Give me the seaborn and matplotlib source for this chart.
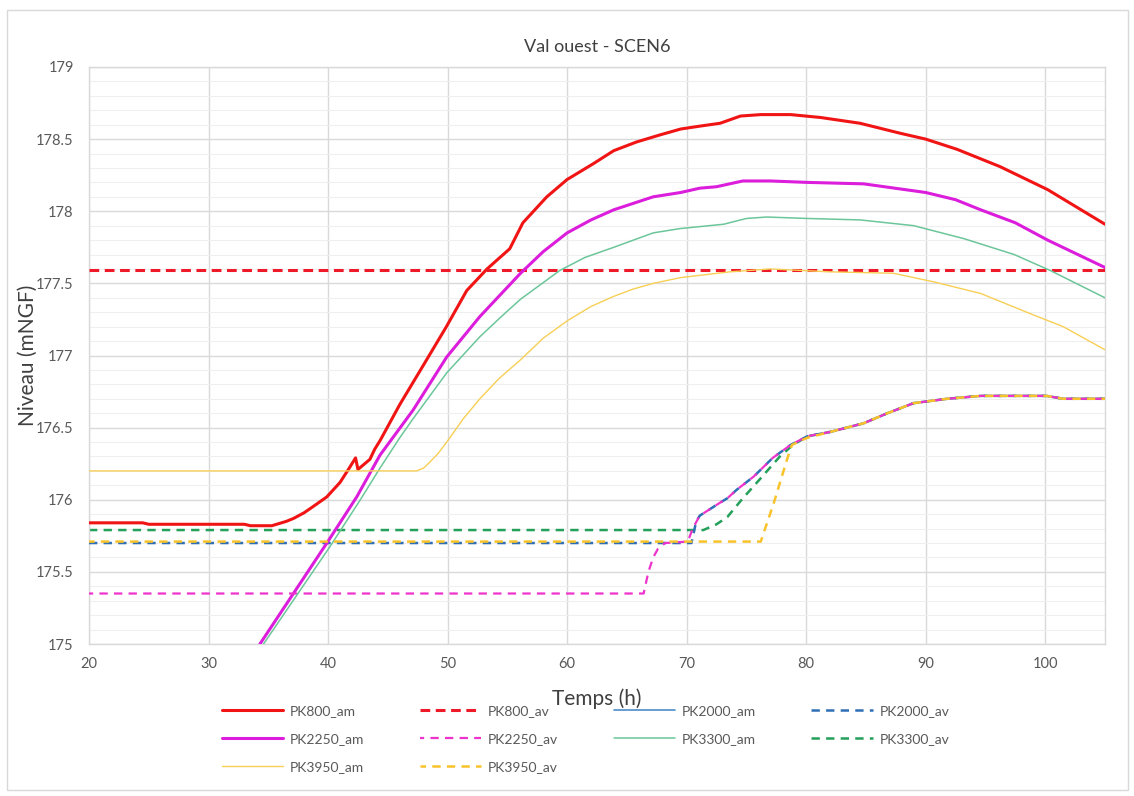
import matplotlib
matplotlib.use("Agg")
import matplotlib.pyplot as plt
import seaborn as sns
from matplotlib.patches import Rectangle
from matplotlib.ticker import MultipleLocator

# ---------------- data ----------------
pk800_am_t = [20, 24.5, 25, 33, 33.5, 35.3, 36.5, 37.1, 38, 38.7, 39.9, 41.0, 41.7, 42.3, 42.5,
              43.5, 43.9, 44.35, 46, 48.1, 49.9, 51.6, 53.3, 55.2, 56.3, 58.3, 60, 62.2, 63.9,
              65.8, 67.8, 69.5, 71.1, 72.8, 74.5, 76.2, 78.7, 81.2, 84.5, 87.9, 90, 92.6, 96.2,
              100.2, 105]
pk800_am_v = [175.84, 175.84, 175.83, 175.83, 175.82, 175.82, 175.85, 175.87, 175.91, 175.95,
              176.02, 176.12, 176.21, 176.29, 176.21, 176.28, 176.35, 176.41, 176.66, 176.95,
              177.20, 177.45, 177.60, 177.74, 177.92, 178.10, 178.22, 178.33, 178.42, 178.48,
              178.53, 178.57, 178.59, 178.61, 178.66, 178.67, 178.67, 178.65, 178.61, 178.54,
              178.50, 178.43, 178.31, 178.15, 177.91]

pk800_av_t = [20, 105]
pk800_av_v = [177.59, 177.59]

pk2000_am_t = [34.3, 37.1, 39.9, 42.4, 44.35, 47.1, 49.93, 52.7, 56.1, 58.0, 60.0, 62.0, 63.9,
               67.2, 69.5, 71.1, 72.5, 74.7, 77, 80.1, 84.8, 90, 92.5, 94.6, 97.5, 100.2, 105]
pk2000_am_v = [175.0, 175.35, 175.70, 176.02, 176.31, 176.62, 176.99, 177.27, 177.57, 177.72,
               177.85, 177.94, 178.01, 178.10, 178.13, 178.16, 178.17, 178.21, 178.21, 178.20,
               178.19, 178.13, 178.08, 178.01, 177.92, 177.80, 177.61]

pk2000_av_t = [20, 70.4, 70.8, 71.1, 72.8, 73.4, 74.2, 75.6, 77.2, 78.7, 80.1, 82.0, 84.8, 86.8,
               89.0, 91.8, 94.6, 100.1, 101.5, 105]
pk2000_av_v = [175.70, 175.70, 175.85, 175.89, 175.98, 176.01, 176.07, 176.16, 176.29, 176.38,
               176.44, 176.47, 176.53, 176.60, 176.67, 176.70, 176.72, 176.72, 176.70, 176.70]

pk2250_am_t = [34.3, 37.1, 39.9, 42.4, 44.35, 47.1, 49.93, 52.7, 56.1, 58.0, 60.0, 62.0, 63.9,
               67.2, 69.5, 71.1, 72.5, 74.7, 77, 80.1, 84.8, 90, 92.5, 94.6, 97.5, 100.2, 105]
pk2250_am_v = [175.0, 175.35, 175.70, 176.02, 176.31, 176.62, 176.99, 177.27, 177.57, 177.72,
               177.85, 177.94, 178.01, 178.10, 178.13, 178.16, 178.17, 178.21, 178.21, 178.20,
               178.19, 178.13, 178.08, 178.01, 177.92, 177.80, 177.61]

pk2250_av_t = [20, 66.4, 66.8, 67.2, 67.6, 68.2, 70.1, 70.5, 71.1, 72.8, 73.4, 74.2, 75.6, 77.2,
               78.7, 80.1, 82.0, 84.8, 86.8, 89.0, 91.8, 94.6, 100.1, 101.5, 105]
pk2250_av_v = [175.35, 175.35, 175.50, 175.60, 175.66, 175.70, 175.71, 175.80, 175.89, 175.98,
               176.01, 176.07, 176.16, 176.29, 176.38, 176.44, 176.47, 176.53, 176.60, 176.67,
               176.70, 176.72, 176.72, 176.70, 176.70]

pk3300_am_t = [34.6, 37.4, 40.2, 42.7, 44.35, 46.0, 47.1, 49.93, 52.7, 54.5, 56.1, 59.4, 61.5,
               63.9, 67.2, 69.46, 73.1, 75.0, 76.7, 80.1, 84.5, 89.0, 93.2, 97.4, 100.4, 105]
pk3300_am_v = [175.0, 175.34, 175.68, 176.0, 176.22, 176.43, 176.56, 176.88, 177.13, 177.27,
               177.39, 177.59, 177.68, 177.75, 177.85, 177.88, 177.91, 177.95, 177.96, 177.95,
               177.94, 177.90, 177.81, 177.70, 177.59, 177.40]

pk3300_av_t = [20, 71.4, 72.5, 73.4, 74.7, 76.1, 77.8, 78.9, 80.1, 82.0, 84.8, 86.8, 89.0, 91.8,
               94.6, 100.1, 101.5, 105]
pk3300_av_v = [175.79, 175.79, 175.83, 175.88, 176.01, 176.14, 176.30, 176.38, 176.44, 176.47,
               176.53, 176.60, 176.67, 176.70, 176.72, 176.72, 176.70, 176.70]

pk3950_am_t = [20, 47.4, 48.0, 48.5, 49.2, 49.93, 51.3, 52.7, 54.3, 56.1, 58.0, 60.0, 62.0, 63.9,
               65.5, 67.2, 69.5, 73.6, 77.0, 82.0, 87.3, 90.7, 94.6, 98.75, 101.5, 105]
pk3950_am_v = [176.20, 176.20, 176.22, 176.26, 176.32, 176.40, 176.56, 176.70, 176.84, 176.97,
               177.12, 177.24, 177.34, 177.41, 177.46, 177.50, 177.54, 177.58, 177.60, 177.58,
               177.57, 177.51, 177.43, 177.29, 177.20, 177.04]

pk3950_av_t = [20, 76.2, 77.3, 78.4, 78.8, 80.1, 82.0, 84.8, 86.8, 89.0, 91.8, 94.6, 100.1,
               101.5, 105]
pk3950_av_v = [175.71, 175.71, 175.98, 176.28, 176.38, 176.43, 176.47, 176.53, 176.60, 176.67,
               176.70, 176.72, 176.72, 176.70, 176.70]

title = "Val ouest - SCEN6"
x_label = "Temps (h)"
y_label = "Niveau (mNGF)"

# ---------------- style ----------------
sns.set_style("white")
plt.rcParams['font.family'] = ['Lato', 'DejaVu Sans']
plt.rcParams['lines.scale_dashes'] = False

W, H = 1134, 796
fig = plt.figure(figsize=(W / 100, H / 100), dpi=100)
fig.patch.set_facecolor("white")
fig.patches.append(Rectangle((7 / W, 6 / H), 1121 / W, 780 / H, transform=fig.transFigure,
                             fill=False, edgecolor="#d9d9d9", linewidth=1.0, zorder=0))

ax = fig.add_axes([89 / W, 1 - 644 / H, 1016 / W, 577 / H])

DASH = (0, (6, 4.5))
# name, t, v, colour, linewidth, linestyle, zorder
series = [
    ("PK800_am", pk800_am_t, pk800_am_v, "#f01414", 2.2, "-", 3),
    ("PK800_av", pk800_av_t, pk800_av_v, "#ee1a2a", 2.2, (0, (7, 4)), 4),
    ("PK2000_am", pk2000_am_t, pk2000_am_v, "#4c8ccc", 1.2, "-", 5),
    ("PK2000_av", pk2000_av_t, pk2000_av_v, "#2f6fb5", 1.8, DASH, 6),
    ("PK2250_am", pk2250_am_t, pk2250_am_v, "#dc1edc", 2.2, "-", 7),
    ("PK2250_av", pk2250_av_t, pk2250_av_v, "#ee33cc", 1.6, (3, (6, 4.5)), 8),
    ("PK3300_am", pk3300_am_t, pk3300_am_v, "#6cc69a", 1.1, "-", 9),
    ("PK3300_av", pk3300_av_t, pk3300_av_v, "#24a05a", 1.8, DASH, 2.5),
    ("PK3950_am", pk3950_am_t, pk3950_am_v, "#f7cf55", 1.0, "-", 11),
    ("PK3950_av", pk3950_av_t, pk3950_av_v, "#f8c32a", 1.8, (2, (6, 4.5)), 12),
]

for name, t, v, col, lw, ls, z in series:
    sns.lineplot(x=t, y=v, ax=ax, color=col, linewidth=lw, linestyle=ls, label=name,
                 legend=False, estimator=None, sort=False, zorder=z)

ax.set_xlim(20, 105)
ax.set_ylim(175, 179)
ax.xaxis.set_major_locator(MultipleLocator(10))
ax.yaxis.set_minor_locator(MultipleLocator(0.1))
ax.set_yticks([175, 175.5, 176, 176.5, 177, 177.5, 178, 178.5, 179])
ax.set_yticklabels(["175", "175.5", "176", "176.5", "177", "177.5", "178", "178.5", "179"])

ax.grid(which="major", axis="both", color="#d9d9d9", linewidth=1.0, zorder=0)
ax.grid(which="minor", axis="y", color="#efefef", linewidth=0.8, zorder=0)
ax.set_axisbelow(True)
for s in ax.spines.values():
    s.set_color("#d9d9d9")
    s.set_linewidth(1.0)

ax.tick_params(axis="both", which="both", length=0, labelsize=10.5, labelcolor="#595959")
ax.tick_params(axis="y", pad=11)
ax.tick_params(axis="x", pad=9)

ax.set_title(title, fontsize=13, color="#404040", y=1.026, pad=0)
ax.set_xlabel(x_label, fontsize=15, color="#404040")
ax.xaxis.set_label_coords(0.5, -0.094)
ax.xaxis.label.set_va("center")
ax.set_ylabel(y_label, fontsize=15, color="#404040")
ax.yaxis.set_label_coords(-0.060, 0.5)
ax.yaxis.label.set_va("center")

handles, labels = ax.get_legend_handles_labels()
hmap = dict(zip(labels, handles))
order = ["PK800_am", "PK2250_am", "PK3950_am", "PK800_av", "PK2250_av", "PK3950_av",
         "PK2000_am", "PK3300_am", "PK2000_av", "PK3300_av"]
leg = fig.legend([hmap[k] for k in order], order, loc="upper left",
                 bbox_to_anchor=(222 / W, 1 - 705 / H), ncol=4, frameon=False,
                 fontsize=10, handlelength=4.4, handletextpad=0.5, columnspacing=4.0,
                 labelspacing=1.15, borderpad=0, borderaxespad=0)
for txt in leg.get_texts():
    txt.set_color("#595959")

fig.savefig("out.png", dpi=100)
